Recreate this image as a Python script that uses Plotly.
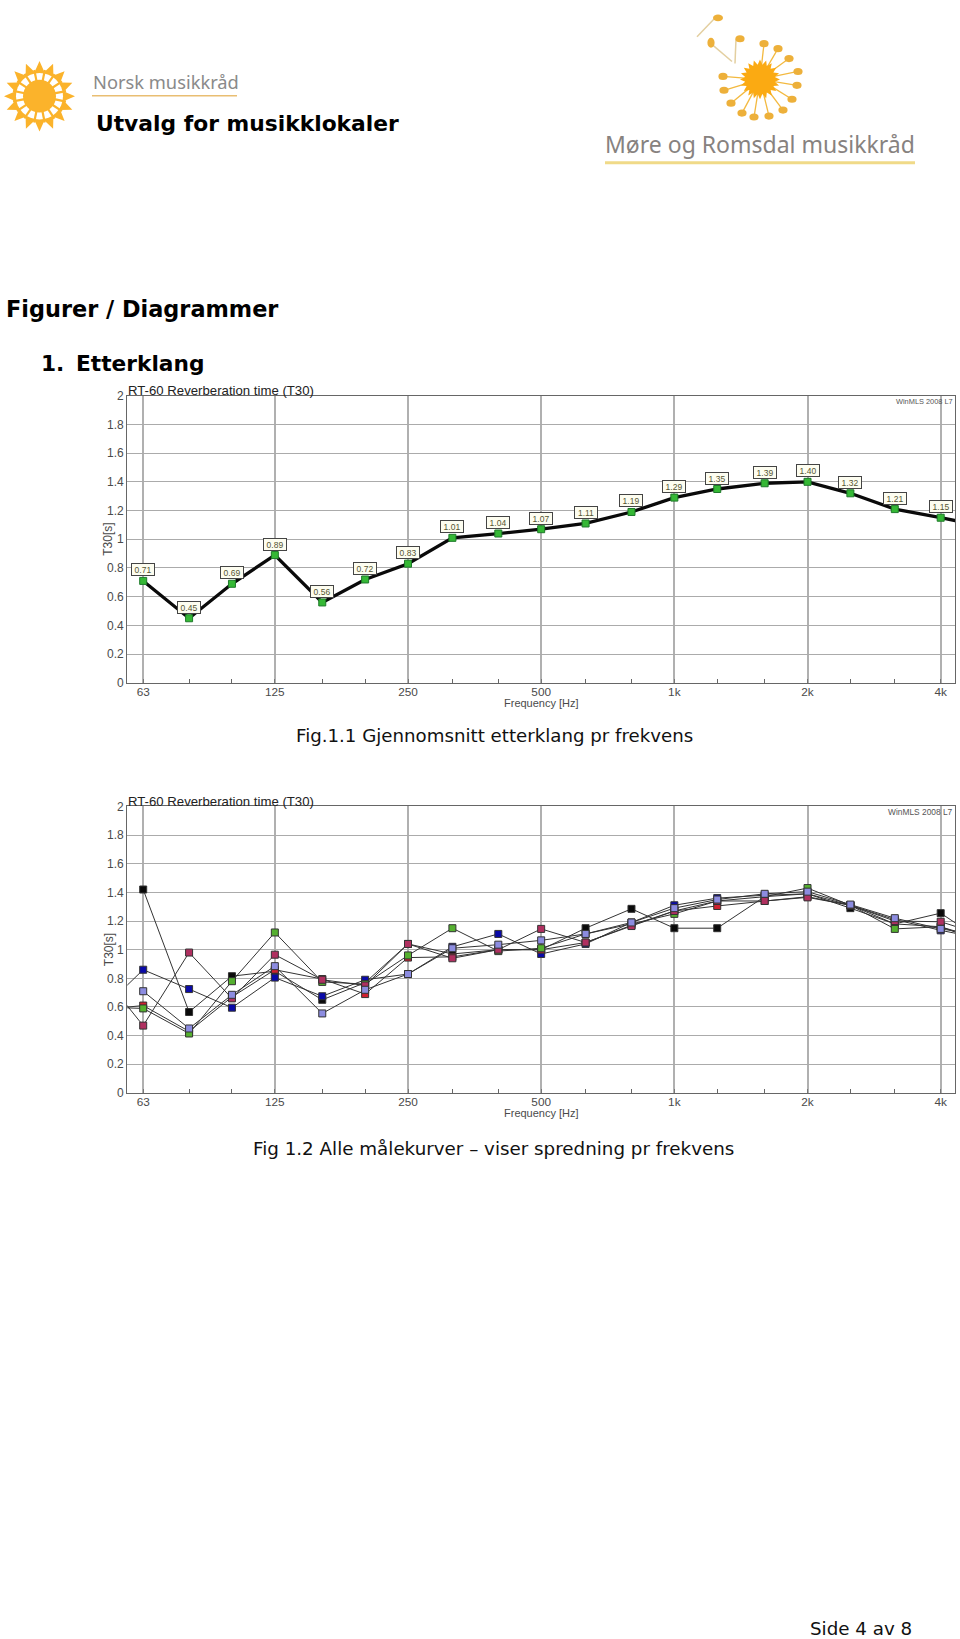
import math
import numpy as np
import plotly.graph_objects as go

W, H = 960, 1639

# ---------- data ----------
freq_labels = ["63", "125", "250", "500", "1k", "2k", "4k"]
major_freqs = [63, 125, 250, 500, 1000, 2000, 4000]
minor_freqs = [80, 100, 160, 200, 315, 400, 630, 800, 1250, 1600, 2500, 3150]

freqs = [50, 63, 80, 100, 125, 160, 200, 250, 315, 400, 500, 630, 800, 1000,
         1250, 1600, 2000, 2500, 3150, 4000, 5000]

y_ticks = [0, 0.2, 0.4, 0.6, 0.8, 1, 1.2, 1.4, 1.6, 1.8, 2]
y_labels = ["0", "0.2", "0.4", "0.6", "0.8", "1", "1.2", "1.4", "1.6", "1.8", "2"]

average = [None, 0.71, 0.45, 0.69, 0.89, 0.56, 0.72, 0.83, 1.01, 1.04, 1.07, 1.11,
           1.19, 1.29, 1.35, 1.39, 1.40, 1.32, 1.21, 1.15, 1.09]

black = [None, 1.42, 0.565, 0.815, 0.85, 0.65, 0.77, 1.04, 0.97, 1.00, 1.00, 1.15,
         1.285, 1.15, 1.15, 1.37, 1.39, 1.29, 1.18, 1.255, 1.055]
blue = [0.56, 0.86, 0.725, 0.595, 0.805, 0.675, 0.79, 0.83, 1.02, 1.11, 0.97, 1.04,
        1.19, 1.31, 1.36, 1.38, 1.39, 1.31, 1.21, 1.135, 1.075]
red = [0.58, 0.61, 0.43, 0.67, 0.86, 0.795, 0.69, 0.945, 0.95, 1.00, 1.00, 1.05,
       1.17, 1.27, 1.305, 1.34, 1.37, 1.31, 1.18, 1.16, 1.05]
green = [0.60, 0.59, 0.415, 0.78, 1.12, 0.775, 0.76, 0.96, 1.15, 0.99, 1.01, 1.11,
         1.18, 1.25, 1.34, 1.37, 1.43, 1.31, 1.145, 1.16, 1.07]
pink = [0.855, 0.47, 0.98, 0.66, 0.965, 0.79, 0.75, 1.04, 0.94, 1.00, 1.145, 1.05,
        1.165, 1.27, 1.34, 1.34, 1.365, 1.31, 1.20, 1.195, 1.10]
periwinkle = [None, 0.71, 0.45, 0.685, 0.885, 0.555, 0.72, 0.83, 1.01, 1.035, 1.065, 1.11,
              1.19, 1.29, 1.35, 1.39, 1.405, 1.315, 1.22, 1.145, 1.10]

curve_names = ["Kurve 1", "Kurve 2", "Kurve 3", "Kurve 4", "Kurve 5", "Kurve 6"]
curve_values = [black, blue, red, green, pink, periwinkle]
curve_colors = ["#0A0A0A", "#0A0AA8", "#D02030", "#55B030", "#B03060", "#8C8CE0"]

# ---------- layout helpers ----------
def px(x):
    return x / W

def py(y):
    return 1 - y / H

X_RANGE = [math.log10(58.0), math.log10(4316.0)]
PLOT_L, PLOT_R = 127.3, 955.3
P1_T, P1_B = 392.0, 681.7
P2_T, P2_B = 806.3, 1095.3
FONT = "Liberation Sans"
BODY = "DejaVu Sans"
LOGO = "Noto Sans"
TICK = "#4A4A4A"

shapes = []
annotations = []

def text(x, y, s, size, color="#000000", family=BODY, anchor="left", bold=False, angle=0):
    annotations.append(dict(
        x=px(x), y=py(y), xref="paper", yref="paper", text=("<b>%s</b>" % s) if bold else s,
        showarrow=False, xanchor=anchor, yanchor="middle", textangle=angle,
        font=dict(size=size, color=color, family=family), borderpad=0))

def line(x0, y0, x1, y1, color, width):
    shapes.append(dict(type="line", xref="paper", yref="paper", x0=px(x0), y0=py(y0),
                       x1=px(x1), y1=py(y1), line=dict(color=color, width=width)))

def oval(cx, cy, rx, ry, color):
    shapes.append(dict(type="circle", xref="paper", yref="paper", x0=px(cx - rx), x1=px(cx + rx),
                       y0=py(cy - ry), y1=py(cy + ry), fillcolor=color, line=dict(width=0)))

def star(cx, cy, r_in, r_out, n, color, phase=0.0):
    pts = []
    for i in range(2 * n):
        r = r_out if i % 2 == 0 else r_in
        a = phase + math.pi * i / n
        pts.append((px(cx + r * math.cos(a)), py(cy + r * math.sin(a))))
    path = "M " + " L ".join("%.5f,%.5f" % p for p in pts) + " Z"
    shapes.append(dict(type="path", xref="paper", yref="paper", path=path,
                       fillcolor=color, line=dict(width=0)))

# ---------- left logo ----------
ORANGE = "#FBB32B"
star(39.5, 90, 25, 35.5, 16, ORANGE, phase=-math.pi / 2)
oval(39.5, 90, 23.5, 23.5, "#FFFFFF")
oval(39.5, 90, 16.5, 16.5, ORANGE)
for i in range(16):
    a = 2 * math.pi * i / 16 + 0.2
    line(39.5 + 15 * math.cos(a), 90 + 15 * math.sin(a),
         39.5 + 27 * math.cos(a), 90 + 27 * math.sin(a), ORANGE, 2.2)
line(92, 89.5, 237, 89.5, "#E9BE72", 1.6)
text(92, 75, "Norsk musikkråd", 18.3, "#8A8A8A", LOGO)

# ---------- right logo ----------
C_X, C_Y = 760, 73
note_heads = [(798, 65), (797, 79), (792, 93), (783, 104), (769, 110), (754, 111), (742, 107),
              (731, 97), (724, 84), (723, 70), (764, 37), (778, 42), (789, 52)]
for nx, ny in note_heads:
    line(C_X, C_Y, nx, ny, "#F3B93F", 1.3)
    oval(nx, ny, 4.6, 3.6, "#EDB03A")
line(732, 55, 711, 37, "#E3CFA0", 1.5)
oval(711, 36, 3.6, 5, "#EDB03A")
line(735, 57, 736, 32, "#E3CFA0", 1.5)
oval(740, 32, 4.6, 3.6, "#EDB03A")
line(697, 30, 715, 11, "#E3CFA0", 1.5)
oval(718, 11, 5, 3.4, "#EDB03A")
star(C_X, C_Y, 15, 20, 20, "#FBAA12")
line(605, 157, 915, 157, "#F0DA88", 3)
text(604, 138, "Møre og Romsdal musikkråd", 23, "#87827F", LOGO)

# ---------- page text ----------
text(94.5, 117.5, "Utvalg for musikklokaler", 21.8, bold=True)
text(4.5, 305, "Figurer / Diagrammer", 22.4, bold=True)
text(40, 360, "1.", 21.7, bold=True)
text(75, 360, "Etterklang", 21.7, bold=True)
text(295, 734.5, "Fig.1.1 Gjennomsnitt etterklang pr frekvens", 18.2, "#111111")
text(252, 1151, "Fig 1.2 Alle målekurver – viser spredning pr frekvens", 18.3, "#111111")
text(809, 1635, "Side 4 av 8", 18.3, "#111111")

# ---------- chart furniture ----------
for top, bottom, credit_size in [(P1_T, P1_B, 7.4), (P2_T, P2_B, 8.4)]:
    text(127, top - 5, "RT-60 Reverberation time (T30)", 13.2, "#222222", FONT)
    annotations.append(dict(x=px(954.5), y=py(top + 5.5), xref="paper", yref="paper",
                            text="WinMLS 2008 L7", showarrow=False, xanchor="right", yanchor="middle",
                            font=dict(size=credit_size, color="#555555", family=FONT)))
    text(108.5, (top + bottom) / 2, "T30[s]", 12, TICK, FONT, anchor="center", angle=-90)
    text(541.5, bottom + 20.5, "Frequency [Hz]", 11, TICK, FONT, anchor="center")

fig = go.Figure()

# ---------- chart 1 ----------
fig.add_trace(go.Scatter(
    x=freqs, y=average, mode="lines+markers", name="Gjennomsnitt", connectgaps=False,
    line=dict(color="#0A0A0A", width=3.3),
    marker=dict(symbol="square", size=7, color="#35B835", line=dict(color="#1E7A2A", width=1)),
    xaxis="x", yaxis="y", showlegend=False, cliponaxis=True))

for f, v in zip(freqs, average):
    if v is None or f > 4000:
        continue
    annotations.append(dict(
        x=math.log10(f), y=v, xref="x", yref="y", text="%.2f" % v, showarrow=False,
        yshift=11, width=21, height=10, bgcolor="#FDFDF0", bordercolor="#444444", borderwidth=1,
        borderpad=0.5, font=dict(size=8.5, color="#555530", family=FONT)))

# ---------- chart 2 ----------
for name, vals, col in zip(curve_names, curve_values, curve_colors):
    fig.add_trace(go.Scatter(
        x=freqs, y=vals, mode="lines+markers", name=name, connectgaps=False,
        line=dict(color="#333333", width=1),
        marker=dict(symbol="square", size=7, color=col, line=dict(color="#333333", width=1)),
        xaxis="x2", yaxis="y2", showlegend=False, cliponaxis=True))

def x_axis(domain_anchor):
    return dict(
        type="log", range=X_RANGE, domain=[px(PLOT_L), px(PLOT_R)], anchor=domain_anchor,
        tickmode="array", tickvals=major_freqs, ticktext=freq_labels,
        showgrid=True, gridcolor="#B0B0B0", gridwidth=1.5,
        showline=True, linecolor="#666666", linewidth=1.2, mirror=True,
        ticks="inside", ticklen=4, tickcolor="#777777", tickwidth=1,
        ticklabelstandoff=-2,
        tickfont=dict(family=FONT, size=11.8, color=TICK),
        minor=dict(tickmode="array", tickvals=minor_freqs, ticks="inside", ticklen=4,
                   tickcolor="#666666", tickwidth=1, showgrid=False),
        zeroline=False)

def y_axis(top, bottom, anchor):
    return dict(
        range=[0, 2], domain=[py(bottom), py(top)], anchor=anchor,
        tickmode="array", tickvals=y_ticks, ticktext=y_labels,
        showgrid=True, gridcolor="#ABABAB", gridwidth=1.2,
        showline=True, linecolor="#666666", linewidth=1.2, mirror=True,
        ticks="", tickfont=dict(family=FONT, size=12, color=TICK), zeroline=False)

fig.update_layout(
    width=W, height=H, margin=dict(l=0, r=0, t=0, b=0), autosize=False,
    paper_bgcolor="#FFFFFF", plot_bgcolor="#FFFFFF", showlegend=False,
    xaxis=x_axis("y"), yaxis=y_axis(P1_T, P1_B, "x"),
    xaxis2=x_axis("y2"), yaxis2=y_axis(P2_T, P2_B, "x2"),
    shapes=shapes, annotations=annotations)

fig.write_html("out.html", config=dict(displayModeBar=False),
               post_script="document.body.style.margin='0';document.documentElement.style.overflow='hidden';")
